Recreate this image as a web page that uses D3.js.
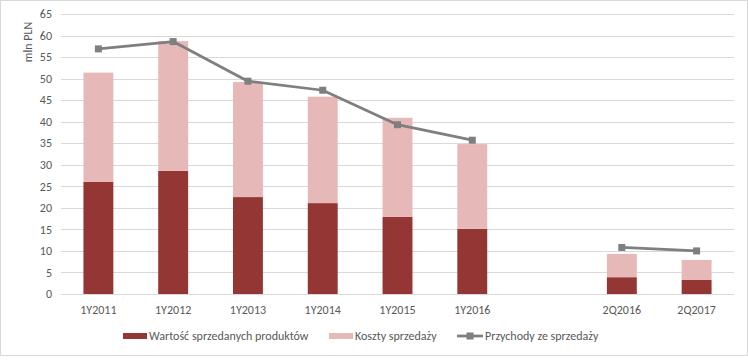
<!DOCTYPE html>
<html>
<head>
<meta charset="utf-8">
<script src="https://cdn.jsdelivr.net/npm/d3@7"></script>
<style>
body { margin: 0; background: #fff; }
svg text { font-family: Carlito, Calibri, "Liberation Sans Narrow", "Liberation Sans", sans-serif; fill: #595959; }
</style>
</head>
<body>
<div id="chart"></div>
<script>
var categories = ['1Y2011', '1Y2012', '1Y2013', '1Y2014', '1Y2015', '1Y2016', '', '2Q2016', '2Q2017'];
var wartosc = [26.0, 28.6, 22.5, 21.1, 17.9, 15.1, null, 3.9, 3.25];
var koszty = [25.4, 30.1, 26.7, 24.7, 23.0, 19.7, null, 5.4, 4.65];
var przychody = [56.9, 58.6, 49.4, 47.3, 39.3, 35.7, null, 10.8, 10.0];
var yTicks = d3.range(0, 70, 5);

var width = 748, height = 362;
var margin = { top: 14, left: 61, right: 14, bottom: 68 };

var svg = d3.select('#chart').append('svg').attr('width', width).attr('height', height);

svg.append('rect')
	.attr('x', 0.5).attr('y', 0.5)
	.attr('width', 747).attr('height', 355)
	.attr('fill', '#fff').attr('stroke', '#d9d9d9');

var x = d3.scaleBand().domain(d3.range(categories.length)).range([margin.left, width - margin.right]).paddingInner(0.6).paddingOuter(0.3);
var xc = function (i) { return x(i) + x.bandwidth() / 2; };
var y = d3.scaleLinear().domain([0, 65]).range([height - margin.bottom, margin.top]);

// gridlines
svg.append('g')
	.selectAll('line')
	.data(yTicks)
	.enter()
	.append('line')
	.attr('x1', margin.left).attr('x2', width - margin.right)
	.attr('y1', function (d) { return Math.round(y(d)) + 0.5; })
	.attr('y2', function (d) { return Math.round(y(d)) + 0.5; })
	.attr('stroke', '#d9d9d9').attr('stroke-width', 1);

svg.append('g')
	.selectAll('text')
	.data(yTicks)
	.enter()
	.append('text')
	.attr('x', 52)
	.attr('y', function (d) { return y(d); })
	.attr('dy', '0.35em')
	.attr('text-anchor', 'end')
	.style('font-size', '12px')
	.text(function (d) { return d; });

svg.append('text')
	.attr('transform', 'translate(32,42) rotate(-90)')
	.attr('text-anchor', 'middle')
	.style('font-size', '12px')
	.text('mln PLN');

// stacked bars
var stack = categories.map(function (c, i) {
	return { i: i, a: wartosc[i], b: koszty[i] };
}).filter(function (d) { return d.a != null; });

var gBars = svg.append('g');
gBars.selectAll('rect.a')
	.data(stack)
	.enter()
	.append('rect')
	.attr('x', function (d) { return x(d.i); })
	.attr('width', x.bandwidth())
	.attr('y', function (d) { return y(d.a); })
	.attr('height', function (d) { return y(0) - y(d.a); })
	.attr('fill', '#943634');

gBars.selectAll('rect.b')
	.data(stack)
	.enter()
	.append('rect')
	.attr('x', function (d) { return x(d.i); })
	.attr('width', x.bandwidth())
	.attr('y', function (d) { return y(d.a + d.b); })
	.attr('height', function (d) { return y(d.a) - y(d.a + d.b); })
	.attr('fill', '#e6b9b8');

// line
var pts = przychody.map(function (v, i) { return { i: i, v: v }; });
var line = d3.line()
	.defined(function (d) { return d.v != null; })
	.x(function (d) { return xc(d.i); })
	.y(function (d) { return y(d.v); });

svg.append('path')
	.datum(pts)
	.attr('d', line)
	.attr('fill', 'none')
	.attr('stroke', '#7f7f7f')
	.attr('stroke-width', 2.75)
	.attr('stroke-linejoin', 'round');

svg.append('g')
	.selectAll('rect')
	.data(pts.filter(function (d) { return d.v != null; }))
	.enter()
	.append('rect')
	.attr('x', function (d) { return xc(d.i) - 3.5; })
	.attr('y', function (d) { return y(d.v) - 3.5; })
	.attr('width', 7).attr('height', 7)
	.attr('fill', '#7f7f7f');

// x labels
svg.append('g')
	.selectAll('text')
	.data(categories)
	.enter()
	.append('text')
	.attr('x', function (d, i) { return xc(i); })
	.attr('y', 314)
	.attr('text-anchor', 'middle')
	.style('font-size', '12px')
	.text(function (d) { return d; });

// legend
var lg = svg.append('g').style('font-size', '12px');
lg.append('rect').attr('x', 123).attr('y', 333).attr('width', 24).attr('height', 6).attr('fill', '#943634');
lg.append('text').attr('x', 149).attr('y', 340).text('Wartość sprzedanych produktów');
lg.append('rect').attr('x', 329).attr('y', 333).attr('width', 24).attr('height', 6).attr('fill', '#e6b9b8');
lg.append('text').attr('x', 355).attr('y', 340).text('Koszty sprzedaży');
lg.append('line').attr('x1', 457).attr('x2', 483).attr('y1', 336).attr('y2', 336).attr('stroke', '#7f7f7f').attr('stroke-width', 2.75);
lg.append('rect').attr('x', 466.5).attr('y', 332.5).attr('width', 7).attr('height', 7).attr('fill', '#7f7f7f');
lg.append('text').attr('x', 485).attr('y', 340).text('Przychody ze sprzedaży');
</script>
</body>
</html>
